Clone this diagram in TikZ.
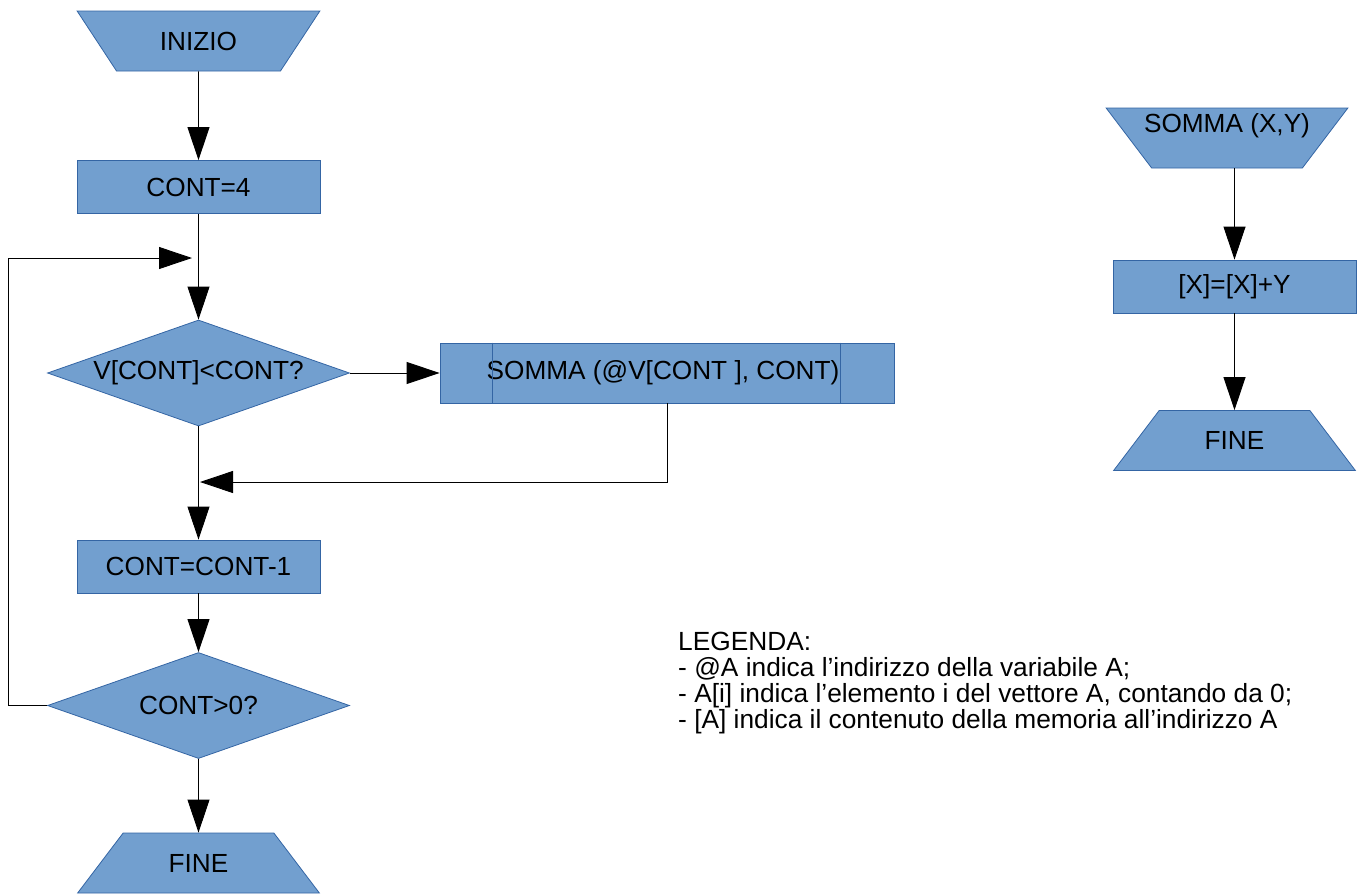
\documentclass[tikz,border=0pt]{standalone}
\usepackage{fontspec}
\setmainfont{Liberation Sans}
\usetikzlibrary{
    arrows.meta,
    positioning,
    shapes.geometric,
    calc
}
\definecolor{block fill}{HTML}{729FCF}
\definecolor{block line}{HTML}{3465A4}
\tikzset{
    % Colors
    block color/.style={fill=block fill,draw=block line,line width=.8pt},
    block text/.style={font=\fontsize{26.2}{30}\selectfont,text=black},
    %
    % Blocks
    process box/.style={block color,block text,rectangle,minimum width=243pt,minimum height=53pt,inner sep=0pt},
    call box/.style={process box,minimum width=454pt,minimum height=60pt},
    decision box/.style={block color,block text,diamond,aspect=2.85,minimum width=302pt,minimum height=106pt,inner sep=0pt},
    end box/.style={block color,block text,trapezium,trapezium left angle=45,trapezium right angle=45,trapezium stretches=true,minimum width=243pt,minimum height=60pt,inner sep=0pt},
    begin box/.style={end box,shape border rotate=180},
    legend text/.style={font=\fontsize{26.3}{26}\selectfont,align=left,inner sep=0pt},
    %
    % Arrows
    arrow tip/.tip={Triangle[width=22pt,length=33pt]},
    flow/.style={line width=.9pt},
    arr/.style={flow,-{arrow tip}}
}

\begin{document}
\begin{tikzpicture}[x=1pt,y=-1pt]
    \useasboundingbox (0,0) rectangle (1364,894);

    % main program
    \node[begin box] (inizio) at (198.5,41) {INIZIO};
    \node[process box] (init) at (198.5,187) {CONT=4};
    \node[decision box] (check) at (198.5,373) {V[CONT]<CONT?};
    \node[call box] (call) at (667,373) {\hspace*{-8pt}SOMMA (@V[CONT ], CONT)};
    \draw[block line,line width=.8pt] ([xshift=53pt]call.north west) -- ([xshift=53pt]call.south west)
        ([xshift=-54pt]call.north east) -- ([xshift=-54pt]call.south east);
    \node[process box] (decr) at (198.5,566.5) {CONT=CONT-1};
    \node[decision box] (test) at (198.5,705.5) {CONT>0?};
    \node[end box] (fine) at (198.5,863) {FINE};
    \coordinate (loop in) at (192,258);
    \coordinate (merge in) at (200,482);

    \draw[arr] (inizio) -- (init);
    \draw[arr] (init) -- (check);
    \draw[arr] (check) -- (call);
    \draw[arr] (call.south) |- (merge in);
    \draw[arr] (check) -- (decr);
    \draw[arr] (decr) -- (test);
    \draw[arr] (test.west) -- ++(-39,0) |- (loop in);
    \draw[arr] (test) -- (fine);

    % subroutine
    \node[begin box] (somma) at (1227,138) {\phantom{FINE}};
    \node[block text] (somma text) at (1227,126) {SOMMA (X,Y)};
    \node[process box] (add) at (1234.5,286.5) {[X]=[X]+Y};
    \node[end box] (fine sub) at (1234.5,440.5) {FINE};

    \draw[arr] (add.north |- somma.south) -- (add);
    \draw[arr] (add) -- (fine sub);

    % legend
    \node[legend text,anchor=base west] (legenda) at (678,728) {LEGENDA:\\
        - @A indica l’indirizzo della variabile A;\\
        - A[i] indica l’elemento i del vettore A, contando da 0;\\
        - [A] indica il contenuto della memoria all’indirizzo A};
\end{tikzpicture}
\end{document}
